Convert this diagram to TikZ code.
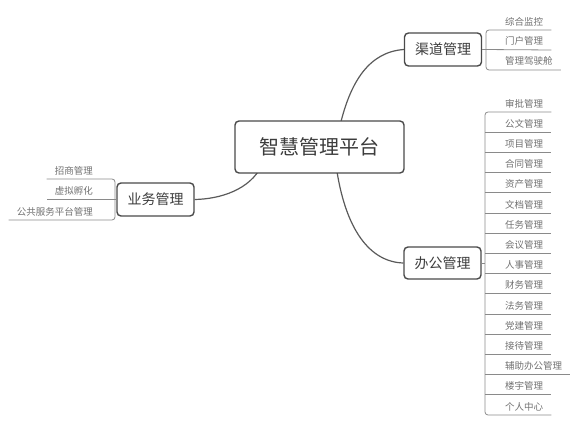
\documentclass[tikz,border=0pt]{standalone}
\usepackage{fontspec}
\setmainfont{Noto Sans CJK SC}
\usetikzlibrary{backgrounds}
\definecolor{boxc}{HTML}{4A4A4A}
\definecolor{maintext}{HTML}{3C3C3C}
\definecolor{itemtext}{HTML}{717171}
\definecolor{curvec}{HTML}{5A5A5A}
\definecolor{linec}{HTML}{8A8A8A}
\tikzset{
  topicbox/.style={draw=boxc, line width=1.4pt, rounded corners=4pt, fill=white, inner sep=0pt, text=maintext, align=center},
  central/.style={topicbox, minimum width=169pt, minimum height=52pt, font=\fontsize{20}{24}\selectfont},
  sub/.style={topicbox, minimum width=77pt, minimum height=33pt, font=\fontsize{14}{17}\selectfont},
  itemr/.style={anchor=south west, inner xsep=0pt, inner ysep=4pt, text=itemtext, font=\fontsize{9.5}{11}\selectfont},
  iteml/.style={anchor=south east, inner xsep=0pt, inner ysep=4pt, text=itemtext, font=\fontsize{9.5}{11}\selectfont},
  curve/.style={draw=curvec, line width=1.2pt},
  uline/.style={draw=linec, line width=0.8pt},
}
\begin{document}
\begin{tikzpicture}[x=1pt,y=-1pt]
\useasboundingbox (0,0) rectangle (582,427);
\node[central] (c) at (319.5,147) {智慧管理平台};
\node[sub] (q) at (443,49.5) {渠道管理};
\node[sub, minimum height=32pt] (b) at (442.5,263) {办公管理};
\node[sub] (y) at (155.5,199.5) {业务管理};

% main curves, behind the boxes
\begin{pgfonlayer}{background}
\draw[curve] ([shift={(19.5,-17)}]c.center) .. controls (350,80) and (370,52) .. (q.west);
\draw[curve] ([shift={(16.5,18)}]c.center) .. controls (345,230) and (370,262) .. (b.west);
\draw[curve] ([shift={(-57.5,18)}]c.center) .. controls (250,190) and (220,199) .. (y.east);
\end{pgfonlayer}

% ---- 渠道管理 items
\node[itemr] (q1) at (505,30) {综合监控};
\node[itemr] (q2) at (505,50) {门户管理};
\node[itemr] (q3) at (505,70) {管理驾驶舱};
\coordinate (qb) at (486,50);
\draw[uline, rounded corners=3pt] ([xshift=8pt]q1.south east) -- (qb|-q1.south) -- (qb|-q3.south) -- ([xshift=8pt]q3.south east);
\draw[uline] (q.east) -- ([xshift=8pt]q2.south east);

% ---- 办公管理 items
\coordinate (bb) at (485,263);
\foreach \t [count=\i from 0] in {审批管理,公文管理,项目管理,合同管理,资产管理,文档管理,任务管理,会议管理,人事管理,财务管理,法务管理,党建管理,接待管理,辅助办公管理,楼宇管理,个人中心}{
  \node[itemr] (b\i) at (505,{112+20.2*\i}) {\t};
}
\draw[uline, rounded corners=3pt] ([xshift=8pt]b0.south east) -- (bb|-b0.south) -- (bb|-b15.south) -- ([xshift=8pt]b15.south east);
\foreach \i in {1,...,14}{
  \draw[uline] (bb|-b\i.south) -- ([xshift=8pt]b\i.south east);
}
\draw[uline] (b.east) -- (bb);

% ---- 业务管理 items
\coordinate (yb) at (115,199.5);
\node[iteml] (y1) at (93,179) {招商管理};
\node[iteml] (y2) at (93,199.5) {虚拟孵化};
\node[iteml] (y3) at (93,220) {公共服务平台管理};
\draw[uline, rounded corners=3pt] ([xshift=-8pt]y1.south west) -- (yb|-y1.south) -- (yb|-y3.south) -- ([xshift=-8pt]y3.south west);
\draw[uline] (y.west) -- ([xshift=-8pt]y2.south west);
\end{tikzpicture}
\end{document}
